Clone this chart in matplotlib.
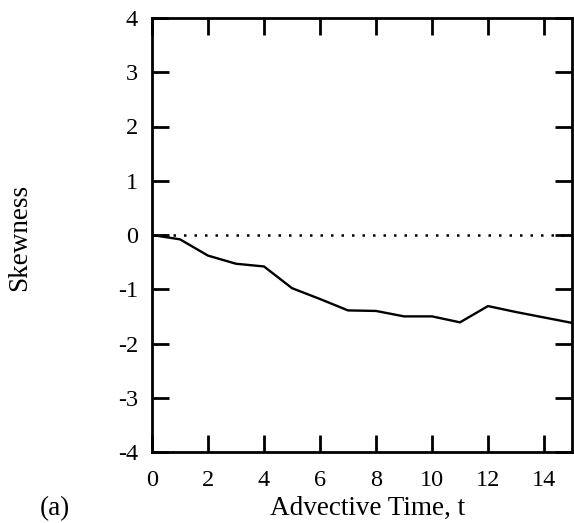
import matplotlib
matplotlib.use("Agg")
import matplotlib.pyplot as plt

# Data
t = [0, 1, 2, 3, 4, 5, 6, 7, 8, 9, 10, 11, 12, 13, 14, 15]
skewness = [0.0, -0.08, -0.38, -0.53, -0.58, -0.98, -1.18, -1.39, -1.40, -1.50, -1.50, -1.61, -1.31, -1.42, -1.52, -1.62]
xticks = [0, 2, 4, 6, 8, 10, 12, 14]
yticks = [-4, -3, -2, -1, 0, 1, 2, 3, 4]

plt.rcParams['font.family'] = ['Liberation Serif', 'DejaVu Serif']

W, H = 574, 523
fig = plt.figure(figsize=(W / 100, H / 100), dpi=100)
L, R, T, B = 152, 572, 18, 452
ax = fig.add_axes([L / W, 1 - B / H, (R - L) / W, (B - T) / H])

ax.plot(t, skewness, color='black', lw=1.7, zorder=3)
ax.axhline(0, color='black', lw=1.8, linestyle=(0, (1, 3.2)), zorder=2)

ax.set_xlim(0, 15)
ax.set_ylim(-4, 4)
ax.set_xticks(xticks)
ax.set_yticks(yticks)
ax.set_xticklabels([str(v) for v in xticks])
ax.set_yticklabels([str(v) for v in yticks])

ax.tick_params(axis='both', direction='in', length=12, width=2.0, labelsize=17.5,
               top=True, right=True, color='black')
ax.tick_params(axis='x', pad=13)
ax.tick_params(axis='y', pad=10)
for s in ax.spines.values():
    s.set_linewidth(2.0)

fig.text((L + R) / 2 / W + 6 / W, 1 - 508 / H, 'Advective Time, t', ha='center', va='center', fontsize=19.5)
fig.text(20 / W, 1 - 237 / H, 'Skewness', ha='center', va='center', rotation=90, fontsize=19.5)
fig.text(55 / W, 1 - 521 / H, '(a)', ha='center', va='bottom', fontsize=19.5)

fig.savefig('out.png', dpi=100)
